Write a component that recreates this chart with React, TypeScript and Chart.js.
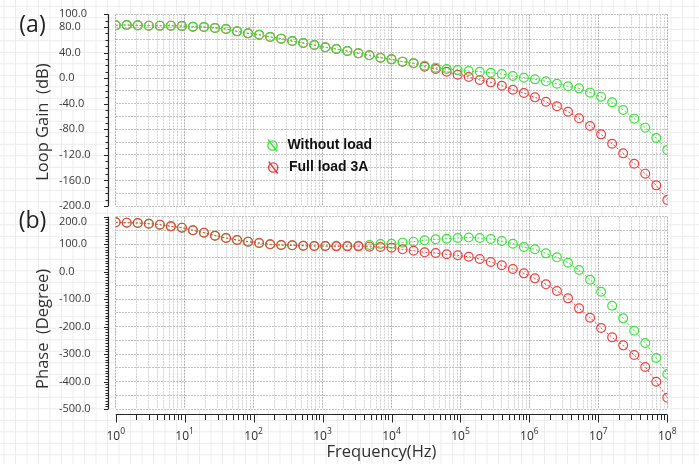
import React, { useEffect, useRef } from "react";
import { Chart, registerables } from "chart.js";

Chart.register(...registerables);

// ---------- data ----------
const FREQ_HZ = [
  1, 1.4454, 2.0893, 3.02, 4.3652, 6.3096, 9.1201, 13.183, 19.055, 27.542,
  39.811, 57.544, 83.176, 120.23, 173.78, 251.19, 363.08, 524.81, 758.58, 1096.5,
  1584.9, 2290.9, 3311.3, 4786.3, 6918.3, 10000, 14454, 20893, 30200, 43652,
  63096, 91201, 131830, 190550, 275420, 398110, 575440, 831760, 1202300, 1737800,
  2511900, 3630800, 5248100, 7585800, 10965000, 15849000, 22909000, 33113000, 47863000, 69183000,
  100000000,
];

const GAIN_WITHOUT_LOAD = [
  82.7, 83.3, 82.7, 82.2, 82.2, 82.2, 81.7, 80.6, 80.1, 78.6,
  77.0, 73.3, 70.2, 68.1, 64.5, 61.9, 58.2, 55.1, 52.0, 48.3,
  45.7, 42.6, 38.9, 35.8, 32.1, 29.5, 25.9, 23.3, 19.6, 16.5,
  14.4, 12.8, 11.3, 10.2, 8.6, 6.6, 3.4, 0.8, -1.8, -4.9,
  -8.6, -12.7, -15.9, -22.6, -28.9, -37.8, -49.7, -63.3, -77.4, -93.6,
  -112.4,
];

const GAIN_FULL_LOAD = [
  82.7, 83.3, 82.7, 82.2, 82.2, 82.2, 81.7, 80.6, 80.1, 78.6,
  77.0, 73.3, 70.2, 68.1, 64.5, 61.9, 58.2, 55.1, 52.0, 48.3,
  45.7, 42.6, 38.9, 35.8, 32.1, 29.5, 25.9, 23.3, 18.0, 14.4,
  10.2, 5.5, 1.9, -2.8, -6.5, -11.7, -18.0, -23.2, -30.0, -36.8,
  -44.0, -52.4, -62.8, -74.8, -87.9, -102.5, -117.6, -133.8, -149.4, -167.7,
  -190.6,
];

const PHASE_WITHOUT_LOAD = [
  179.5, 178.3, 177.1, 174.6, 171.0, 164.9, 160.1, 150.4, 141.9, 130.9,
  122.5, 115.2, 109.1, 104.2, 99.4, 97.0, 95.8, 94.5, 93.3, 93.3,
  94.5, 94.5, 94.5, 97.0, 100.6, 101.8, 105.5, 109.1, 114.0, 117.6,
  120.0, 122.5, 124.0, 122.4, 118.8, 111.5, 101.8, 89.7, 81.2, 66.6,
  52.1, 32.6, 5.9, -29.3, -73.0, -124.0, -170.1, -215.0, -259.8, -314.4,
  -372.7,
];

const PHASE_FULL_LOAD = [
  179.5, 178.3, 177.1, 174.6, 171.0, 164.9, 160.1, 150.4, 141.9, 130.9,
  122.5, 115.2, 109.1, 104.2, 99.4, 97.0, 95.8, 94.5, 93.3, 93.3,
  92.1, 92.1, 92.1, 90.9, 89.7, 87.3, 81.2, 76.3, 70.3, 67.9,
  63.0, 59.4, 54.0, 46.0, 35.1, 23.0, 9.6, -6.2, -24.4, -46.2,
  -70.5, -97.2, -133.6, -167.6, -205.2, -239.2, -268.3, -303.5, -347.2, -400.6,
  -458.9,
];

const SERIES_NAMES = ["Without load", "Full load 3A"];
const GAIN_TICK_LABELS = [100, 80, 40, 0, -40, -80, -120, -160, -200];
const PHASE_TICK_LABELS = [200, 100, 0, -100, -200, -300, -400, -500];
const DECADES = [1, 10, 100, 1e3, 1e4, 1e5, 1e6, 1e7, 1e8];
const DECADE_EXPONENTS = ["0", "1", "2", "3", "4", "5", "6", "7", "8"];

// ---------- styles ----------
const GREEN = "rgb(58,226,58)";
const RED = "rgb(240,62,62)";
const FONT = '"Open Sans", "Noto Sans", sans-serif';
const W = 699;

function logGridValues() {
  const out: number[] = [];
  for (let d = 0; d < DECADES.length; d++) {
    const base = DECADES[d];
    if (d === DECADES.length - 1) {
      out.push(base);
      break;
    }
    for (let m = 1; m <= 9; m++) out.push(base * m);
  }
  return out;
}

const decorPlugin = {
  id: "decor",
  beforeDraw(chart: any) {
    const ctx = chart.ctx as CanvasRenderingContext2D;
    const a = chart.chartArea;
    ctx.save();
    ctx.fillStyle = "#ffffff";
    ctx.fillRect(a.left - 1, a.top - 1, a.right - a.left + 2, a.bottom - a.top + 2);
    ctx.restore();
  },
  afterDraw(chart: any, _args: any, o: any) {
    const ctx = chart.ctx as CanvasRenderingContext2D;
    const a = chart.chartArea;
    const ys = chart.scales.y;
    const xs = chart.scales.x;
    ctx.save();

    // y axis line (detached from plot)
    const ax = Math.round(a.left - 7.5) + 0.5;
    ctx.strokeStyle = "#262626";
    ctx.lineWidth = 1.2;
    ctx.beginPath();
    ctx.moveTo(ax, a.top);
    ctx.lineTo(ax, a.bottom);
    ctx.stroke();
    ctx.lineWidth = 1;
    for (let v = o.yMin; v <= o.yMax + 1e-9; v += o.minorStep) {
      const py = Math.round(ys.getPixelForValue(v)) + 0.5;
      const major = o.labels.indexOf(v) >= 0;
      const len = major ? 4.5 : 3;
      ctx.beginPath();
      ctx.moveTo(ax, py);
      ctx.lineTo(ax - len, py);
      ctx.stroke();
    }

    // y tick labels
    ctx.font = `11px ${FONT}`;
    ctx.fillStyle = "#3a3a3a";
    ctx.textAlign = "left";
    ctx.textBaseline = "middle";
    for (const v of o.labels) {
      let py = ys.getPixelForValue(v);
      py = Math.max(py, a.top + o.labelTopInset);
      ctx.fillText(Number(v).toFixed(1), 59, py);
    }

    // y title
    ctx.save();
    ctx.translate(43, (a.top + a.bottom) / 2 + o.titleShift);
    ctx.rotate(-Math.PI / 2);
    ctx.font = `16.5px ${FONT}`;
    ctx.fillStyle = "#303030";
    ctx.textAlign = "center";
    ctx.textBaseline = "middle";
    ctx.fillText(o.yTitle, 0, 0);
    ctx.restore();

    // panel label
    ctx.font = `23px ${FONT}`;
    ctx.fillStyle = "#222";
    ctx.textAlign = "center";
    ctx.textBaseline = "middle";
    ctx.fillText(o.panelLabel, 32.5, o.panelLabelY);

    // x axis (bottom panel only)
    if (o.drawXAxis) {
      const ay = Math.round(a.bottom + 5) + 0.5;
      ctx.strokeStyle = "#262626";
      ctx.lineWidth = 1.2;
      ctx.beginPath();
      ctx.moveTo(a.left, ay);
      ctx.lineTo(a.right, ay);
      ctx.stroke();
      ctx.lineWidth = 1;
      for (const v of o.xGrid) {
        const px = Math.round(xs.getPixelForValue(v)) + 0.5;
        const major = DECADES.indexOf(v) >= 0;
        ctx.beginPath();
        ctx.moveTo(px, ay);
        ctx.lineTo(px, ay + (major ? 8 : 5.5));
        ctx.stroke();
      }
      ctx.fillStyle = "#303030";
      ctx.textBaseline = "middle";
      ctx.textAlign = "left";
      DECADES.forEach((d, i) => {
        const px = xs.getPixelForValue(d);
        ctx.font = `12px ${FONT}`;
        const w1 = ctx.measureText("10").width;
        ctx.font = `8.5px ${FONT}`;
        const w2 = ctx.measureText(DECADE_EXPONENTS[i]).width;
        const x0 = px - (w1 + w2) / 2;
        ctx.font = `12px ${FONT}`;
        ctx.fillText("10", x0, ay + 22);
        ctx.font = `8.5px ${FONT}`;
        ctx.fillText(DECADE_EXPONENTS[i], x0 + w1, ay + 17.5);
      });
      ctx.font = `16.5px ${FONT}`;
      ctx.textAlign = "center";
      ctx.fillStyle = "#303030";
      ctx.fillText(o.xTitle, (a.left + a.right) / 2 - 10, ay + 37.5);
    }

    // legend (top panel only)
    if (o.legend) {
      const items = [
        { name: SERIES_NAMES[0], color: GREEN, x: 272.5, y: 145.5, tx: 287.5 },
        { name: SERIES_NAMES[1], color: RED, x: 273.2, y: 167.5, tx: 289 },
      ];
      for (const it of items) {
        ctx.strokeStyle = it.color;
        ctx.lineWidth = 1.4;
        ctx.beginPath();
        ctx.arc(it.x, it.y, 4.6, 0, Math.PI * 2);
        ctx.stroke();
        ctx.beginPath();
        ctx.moveTo(it.x - 4.5, it.y - 6);
        ctx.lineTo(it.x + 4.5, it.y + 6);
        ctx.stroke();
        ctx.font = `bold 14px "Liberation Sans", Arial, sans-serif`;
        ctx.fillStyle = "#111";
        ctx.textAlign = "left";
        ctx.textBaseline = "middle";
        ctx.fillText(it.name, it.tx, it.y);
      }
    }
    ctx.restore();
  },
};

type Panel = {
  series: { values: number[]; color: string }[];
  yMin: number;
  yMax: number;
  gridStep: number;
  minorStep: number;
  labels: number[];
  yTitle: string;
  titleShift: number;
  panelLabel: string;
  panelLabelY: number;
  labelTopInset: number;
  padding: { top: number; bottom: number; left: number; right: number };
  xHeight: number;
  drawXAxis: boolean;
  legend: boolean;
};

function buildChart(canvas: HTMLCanvasElement, p: Panel) {
  const xGrid = logGridValues();
  const yGrid: number[] = [];
  for (let v = p.yMin; v <= p.yMax + 1e-9; v += p.gridStep) yGrid.push(v);
  return new Chart(canvas, {
    type: "line",
    data: {
      datasets: p.series.map((s) => ({
        data: FREQ_HZ.map((f, i) => ({ x: f, y: s.values[i] })),
        borderColor: s.color,
        backgroundColor: "rgba(0,0,0,0)",
        borderWidth: 1,
        borderDash: [2, 2],
        pointRadius: 4.4,
        pointBorderWidth: 1.2,
        pointBorderColor: s.color,
        pointBackgroundColor: "rgba(0,0,0,0)",
        tension: 0,
        clip: 0,
      })),
    },
    options: {
      responsive: false,
      animation: false,
      events: [],
      layout: { padding: p.padding },
      plugins: {
        legend: { display: false },
        tooltip: { enabled: false },
        decor: {
          yMin: p.yMin,
          yMax: p.yMax,
          minorStep: p.minorStep,
          labels: p.labels,
          yTitle: p.yTitle,
          titleShift: p.titleShift,
          panelLabel: p.panelLabel,
          panelLabelY: p.panelLabelY,
          labelTopInset: p.labelTopInset,
          drawXAxis: p.drawXAxis,
          xGrid,
          xTitle: "Frequency(Hz)",
          legend: p.legend,
        },
      } as any,
      scales: {
        x: {
          type: "logarithmic",
          min: 1,
          max: 1e8,
          afterBuildTicks: (sc: any) => {
            sc.ticks = xGrid.map((v) => ({ value: v }));
          },
          ticks: { display: false, autoSkip: false },
          grid: {
            drawTicks: false,
            lineWidth: 1,
            color: (c: any) =>
              DECADES.indexOf(c.tick ? c.tick.value : -1) >= 0 ? "#b0b0b0" : "#d2d2d2",
          },
          border: { display: false, dash: [2, 1] },
          afterFit: (sc: any) => {
            sc.height = p.xHeight;
          },
        },
        y: {
          type: "linear",
          min: p.yMin,
          max: p.yMax,
          afterBuildTicks: (sc: any) => {
            sc.ticks = yGrid.map((v) => ({ value: v }));
          },
          ticks: { display: false, autoSkip: false },
          grid: { drawTicks: false, lineWidth: 1, color: "#c4c4c4" },
          border: { display: false, dash: [2, 1] },
          afterFit: (sc: any) => {
            sc.width = 115.7;
          },
        },
      },
    } as any,
    plugins: [decorPlugin as any],
  });
}

export default function App() {
  const topRef = useRef<HTMLCanvasElement>(null);
  const botRef = useRef<HTMLCanvasElement>(null);

  useEffect(() => {
    const top = buildChart(topRef.current!, {
      series: [
        { values: GAIN_WITHOUT_LOAD, color: GREEN },
        { values: GAIN_FULL_LOAD, color: RED },
      ],
      yMin: -200,
      yMax: 100,
      gridStep: 20,
      minorStep: 10,
      labels: GAIN_TICK_LABELS,
      yTitle: "Loop Gain  (dB)",
      titleShift: 12,
      panelLabel: "(a)",
      panelLabelY: 25,
      labelTopInset: 0,
      padding: { top: 14.3, bottom: 10, left: 0, right: 31.7 },
      xHeight: 0,
      drawXAxis: false,
      legend: true,
    });
    const bot = buildChart(botRef.current!, {
      series: [
        { values: PHASE_FULL_LOAD, color: RED },
        { values: PHASE_WITHOUT_LOAD, color: GREEN },
      ],
      yMin: -500,
      yMax: 200,
      gridStep: 50,
      minorStep: 10,
      labels: PHASE_TICK_LABELS,
      yTitle: "Phase  (Degree)",
      titleShift: 16,
      panelLabel: "(b)",
      panelLabelY: 25,
      labelTopInset: 5,
      padding: { top: 20.7, bottom: 0, left: 0, right: 31.7 },
      xHeight: 55,
      drawXAxis: true,
      legend: false,
    });
    return () => {
      top.destroy();
      bot.destroy();
    };
  }, []);

  return (
    <div
      style={{
        position: "fixed",
        left: 0,
        top: 0,
        width: W,
        height: 464,
        backgroundColor: "#fff",
        backgroundImage:
          "linear-gradient(to right, #ececec 1px, transparent 1px), linear-gradient(to bottom, #ececec 1px, transparent 1px)",
        backgroundSize: "11.5px 11.5px",
        backgroundPosition: "3.5px 5.8px",
      }}
    >
      <canvas
        ref={topRef}
        width={W}
        height={216}
        style={{ position: "absolute", left: 0, top: 0, width: W, height: 216 }}
      />
      <canvas
        ref={botRef}
        width={W}
        height={268}
        style={{ position: "absolute", left: 0, top: 196, width: W, height: 268 }}
      />
    </div>
  );
}
